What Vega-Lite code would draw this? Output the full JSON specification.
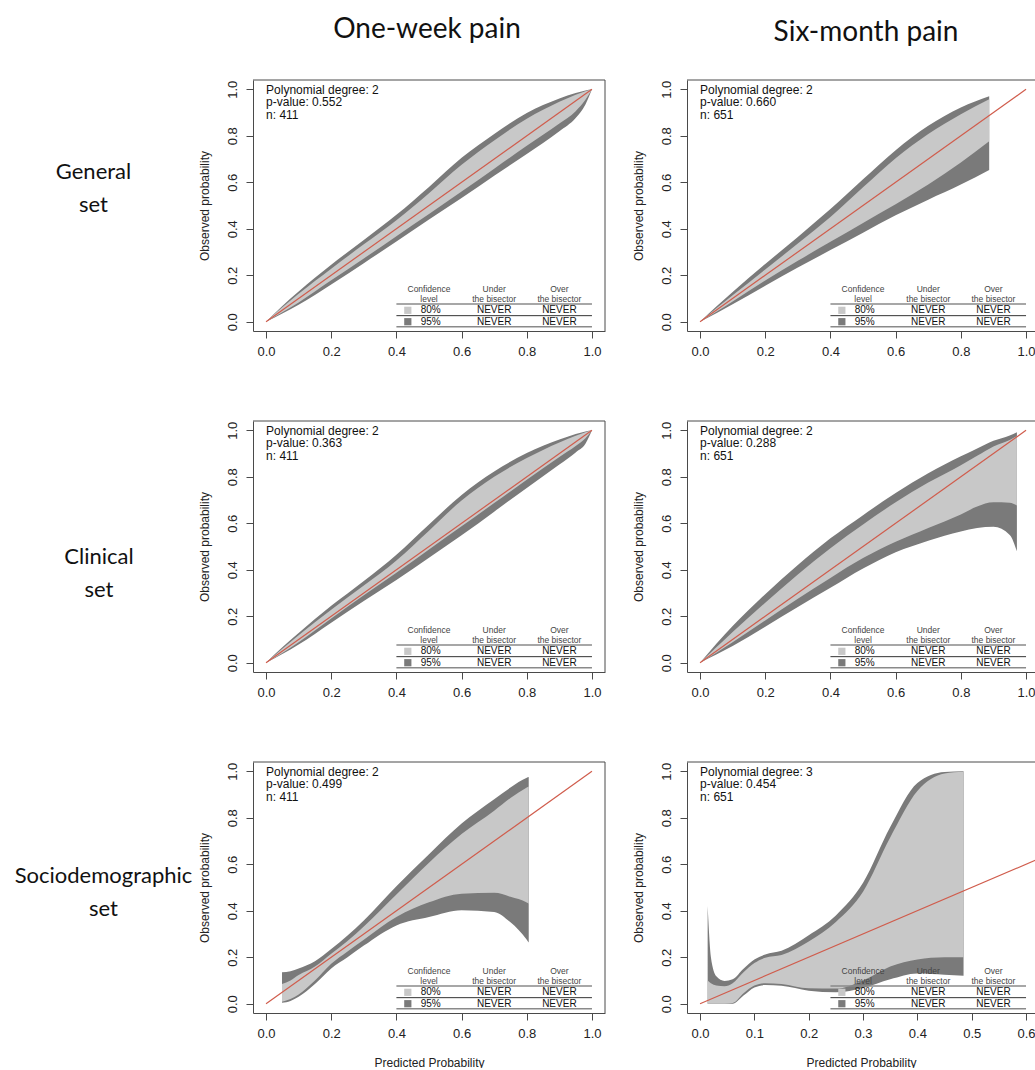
{
"$schema": "https://vega.github.io/schema/vega-lite/v6.json",
"background": "white",
"padding": {"left": 0, "top": 15, "right": 0, "bottom": 0},
"config": {
  "font": "Liberation Sans",
  "view": {"stroke": null},
  "axis": {"grid": false, "domainColor": "#4a4a4a", "domainWidth": 1, "tickColor": "#4a4a4a", "tickSize": 7, "tickWidth": 1, "labelFont": "Liberation Sans", "labelFontSize": 13, "labelColor": "#222", "labelOverlap": false, "labelFlush": false, "titleFont": "Liberation Sans", "titleFontSize": 12, "titleFontWeight": "normal", "titleColor": "#222"},
  "axisX": {"labelAngle": 0, "labelPadding": 7, "titlePadding": 17},
  "axisY": {"labelAngle": -90, "labelAlign": "center", "labelBaseline": "bottom", "labelPadding": 7, "titlePadding": 15},
  "title": {"font": "Lato", "fontSize": 28, "fontWeight": "normal", "color": "#111", "baseline": "alphabetic", "frame": "group", "anchor": "middle"}
},
"datasets": {
  "belt": [
    {"p":"P1","x":0,"u95":0,"u80":0,"l80":0,"l95":0},
    {"p":"P1","x":0.05,"u95":0.068,"u80":0.062,"l80":0.041,"l95":0.035},
    {"p":"P1","x":0.1,"u95":0.13,"u80":0.12,"l80":0.083,"l95":0.073},
    {"p":"P1","x":0.2,"u95":0.245,"u80":0.228,"l80":0.178,"l95":0.16},
    {"p":"P1","x":0.3,"u95":0.352,"u80":0.333,"l80":0.272,"l95":0.252},
    {"p":"P1","x":0.4,"u95":0.46,"u80":0.437,"l80":0.368,"l95":0.345},
    {"p":"P1","x":0.5,"u95":0.58,"u80":0.553,"l80":0.463,"l95":0.44},
    {"p":"P1","x":0.6,"u95":0.705,"u80":0.675,"l80":0.56,"l95":0.532},
    {"p":"P1","x":0.7,"u95":0.808,"u80":0.78,"l80":0.658,"l95":0.628},
    {"p":"P1","x":0.8,"u95":0.898,"u80":0.873,"l80":0.757,"l95":0.722},
    {"p":"P1","x":0.9,"u95":0.96,"u80":0.946,"l80":0.853,"l95":0.82},
    {"p":"P1","x":0.95,"u95":0.984,"u80":0.977,"l80":0.906,"l95":0.877},
    {"p":"P1","x":0.98,"u95":0.995,"u80":0.992,"l80":0.955,"l95":0.935},
    {"p":"P1","x":1,"u95":1,"u80":1,"l80":1,"l95":1},
    {"p":"P2","x":0,"u95":0,"u80":0,"l80":0,"l95":0},
    {"p":"P2","x":0.05,"u95":0.065,"u80":0.058,"l80":0.043,"l95":0.036},
    {"p":"P2","x":0.1,"u95":0.128,"u80":0.114,"l80":0.087,"l95":0.075},
    {"p":"P2","x":0.2,"u95":0.248,"u80":0.225,"l80":0.177,"l95":0.155},
    {"p":"P2","x":0.3,"u95":0.365,"u80":0.336,"l80":0.262,"l95":0.233},
    {"p":"P2","x":0.4,"u95":0.485,"u80":0.45,"l80":0.344,"l95":0.308},
    {"p":"P2","x":0.5,"u95":0.613,"u80":0.578,"l80":0.425,"l95":0.383},
    {"p":"P2","x":0.6,"u95":0.738,"u80":0.703,"l80":0.505,"l95":0.458},
    {"p":"P2","x":0.7,"u95":0.843,"u80":0.808,"l80":0.59,"l95":0.525},
    {"p":"P2","x":0.8,"u95":0.922,"u80":0.893,"l80":0.685,"l95":0.59},
    {"p":"P2","x":0.887,"u95":0.97,"u80":0.957,"l80":0.776,"l95":0.653},
    {"p":"P3","x":0,"u95":0,"u80":0,"l80":0,"l95":0},
    {"p":"P3","x":0.05,"u95":0.066,"u80":0.06,"l80":0.042,"l95":0.037},
    {"p":"P3","x":0.1,"u95":0.128,"u80":0.118,"l80":0.088,"l95":0.078},
    {"p":"P3","x":0.2,"u95":0.245,"u80":0.228,"l80":0.19,"l95":0.172},
    {"p":"P3","x":0.3,"u95":0.352,"u80":0.332,"l80":0.29,"l95":0.266},
    {"p":"P3","x":0.4,"u95":0.465,"u80":0.44,"l80":0.387,"l95":0.356},
    {"p":"P3","x":0.5,"u95":0.595,"u80":0.568,"l80":0.487,"l95":0.452},
    {"p":"P3","x":0.6,"u95":0.722,"u80":0.698,"l80":0.587,"l95":0.548},
    {"p":"P3","x":0.7,"u95":0.823,"u80":0.8,"l80":0.687,"l95":0.65},
    {"p":"P3","x":0.8,"u95":0.902,"u80":0.881,"l80":0.787,"l95":0.752},
    {"p":"P3","x":0.9,"u95":0.96,"u80":0.948,"l80":0.885,"l95":0.853},
    {"p":"P3","x":0.95,"u95":0.984,"u80":0.977,"l80":0.932,"l95":0.905},
    {"p":"P3","x":0.98,"u95":0.995,"u80":0.992,"l80":0.966,"l95":0.942},
    {"p":"P3","x":1,"u95":1,"u80":1,"l80":1,"l95":1},
    {"p":"P4","x":0,"u95":0,"u80":0,"l80":0,"l95":0},
    {"p":"P4","x":0.05,"u95":0.082,"u80":0.066,"l80":0.043,"l95":0.035},
    {"p":"P4","x":0.1,"u95":0.158,"u80":0.132,"l80":0.088,"l95":0.072},
    {"p":"P4","x":0.2,"u95":0.295,"u80":0.258,"l80":0.182,"l95":0.155},
    {"p":"P4","x":0.3,"u95":0.42,"u80":0.38,"l80":0.275,"l95":0.24},
    {"p":"P4","x":0.4,"u95":0.535,"u80":0.493,"l80":0.365,"l95":0.322},
    {"p":"P4","x":0.5,"u95":0.635,"u80":0.595,"l80":0.45,"l95":0.405},
    {"p":"P4","x":0.6,"u95":0.73,"u80":0.69,"l80":0.52,"l95":0.475},
    {"p":"P4","x":0.7,"u95":0.815,"u80":0.775,"l80":0.58,"l95":0.525},
    {"p":"P4","x":0.8,"u95":0.888,"u80":0.85,"l80":0.638,"l95":0.565},
    {"p":"P4","x":0.85,"u95":0.922,"u80":0.89,"l80":0.672,"l95":0.58},
    {"p":"P4","x":0.9,"u95":0.955,"u80":0.93,"l80":0.69,"l95":0.585},
    {"p":"P4","x":0.95,"u95":0.978,"u80":0.958,"l80":0.688,"l95":0.55},
    {"p":"P4","x":0.972,"u95":0.992,"u80":0.975,"l80":0.676,"l95":0.48},
    {"p":"P5","x":0.049,"u95":0.135,"u80":0.085,"l80":0.008,"l95":0.004},
    {"p":"P5","x":0.075,"u95":0.14,"u80":0.1,"l80":0.02,"l95":0.012},
    {"p":"P5","x":0.1,"u95":0.152,"u80":0.123,"l80":0.04,"l95":0.03},
    {"p":"P5","x":0.15,"u95":0.183,"u80":0.16,"l80":0.1,"l95":0.085},
    {"p":"P5","x":0.2,"u95":0.235,"u80":0.215,"l80":0.172,"l95":0.152},
    {"p":"P5","x":0.25,"u95":0.293,"u80":0.27,"l80":0.225,"l95":0.2},
    {"p":"P5","x":0.3,"u95":0.358,"u80":0.332,"l80":0.275,"l95":0.25},
    {"p":"P5","x":0.4,"u95":0.505,"u80":0.47,"l80":0.373,"l95":0.337},
    {"p":"P5","x":0.5,"u95":0.643,"u80":0.607,"l80":0.436,"l95":0.373},
    {"p":"P5","x":0.6,"u95":0.775,"u80":0.73,"l80":0.473,"l95":0.402},
    {"p":"P5","x":0.7,"u95":0.88,"u80":0.83,"l80":0.477,"l95":0.395},
    {"p":"P5","x":0.75,"u95":0.93,"u80":0.885,"l80":0.46,"l95":0.35},
    {"p":"P5","x":0.8,"u95":0.972,"u80":0.93,"l80":0.435,"l95":0.275},
    {"p":"P5","x":0.806,"u95":0.975,"u80":0.935,"l80":0.43,"l95":0.263},
    {"p":"P6","x":0.014,"u95":0.42,"u80":0.1,"l80":0,"l95":0},
    {"p":"P6","x":0.02,"u95":0.2,"u80":0.088,"l80":0,"l95":0},
    {"p":"P6","x":0.03,"u95":0.118,"u80":0.078,"l80":0,"l95":0},
    {"p":"P6","x":0.045,"u95":0.098,"u80":0.075,"l80":0,"l95":0},
    {"p":"P6","x":0.06,"u95":0.105,"u80":0.088,"l80":0.003,"l95":0},
    {"p":"P6","x":0.08,"u95":0.15,"u80":0.135,"l80":0.045,"l95":0.035},
    {"p":"P6","x":0.1,"u95":0.19,"u80":0.175,"l80":0.078,"l95":0.07},
    {"p":"P6","x":0.12,"u95":0.212,"u80":0.198,"l80":0.088,"l95":0.08},
    {"p":"P6","x":0.15,"u95":0.228,"u80":0.21,"l80":0.085,"l95":0.077},
    {"p":"P6","x":0.2,"u95":0.295,"u80":0.268,"l80":0.066,"l95":0.056},
    {"p":"P6","x":0.25,"u95":0.38,"u80":0.352,"l80":0.065,"l95":0.049},
    {"p":"P6","x":0.3,"u95":0.52,"u80":0.482,"l80":0.1,"l95":0.068},
    {"p":"P6","x":0.35,"u95":0.76,"u80":0.715,"l80":0.16,"l95":0.105},
    {"p":"P6","x":0.4,"u95":0.95,"u80":0.915,"l80":0.19,"l95":0.13},
    {"p":"P6","x":0.45,"u95":0.997,"u80":0.99,"l80":0.2,"l95":0.125},
    {"p":"P6","x":0.485,"u95":1,"u80":0.998,"l80":0.2,"l95":0.12}
  ],
  "diag": [{"x":0,"y":0},{"x":1,"y":1}],
  "notes": [
    {"p":"P1","txt":"Polynomial degree: 2\np-value: 0.552\nn: 411"},
    {"p":"P2","txt":"Polynomial degree: 2\np-value: 0.660\nn: 651"},
    {"p":"P3","txt":"Polynomial degree: 2\np-value: 0.363\nn: 411"},
    {"p":"P4","txt":"Polynomial degree: 2\np-value: 0.288\nn: 651"},
    {"p":"P5","txt":"Polynomial degree: 2\np-value: 0.499\nn: 411"},
    {"p":"P6","txt":"Polynomial degree: 3\np-value: 0.454\nn: 651"}
  ],
  "tbl": [
    {"g":"a","role":"head","tx":0.5,"ty":0.14,"label":"Confidence"},
    {"g":"a","role":"head","tx":0.5,"ty":0.097,"label":"level"},
    {"g":"a","role":"head","tx":0.7,"ty":0.14,"label":"Under"},
    {"g":"a","role":"head","tx":0.7,"ty":0.097,"label":"the bisector"},
    {"g":"a","role":"head","tx":0.9,"ty":0.14,"label":"Over"},
    {"g":"a","role":"head","tx":0.9,"ty":0.097,"label":"the bisector"},
    {"g":"a","role":"body","tx":0.505,"ty":0.049,"label":"80%"},
    {"g":"a","role":"body","tx":0.7,"ty":0.049,"label":"NEVER"},
    {"g":"a","role":"body","tx":0.9,"ty":0.049,"label":"NEVER"},
    {"g":"a","role":"body","tx":0.505,"ty":0.0,"label":"95%"},
    {"g":"a","role":"body","tx":0.7,"ty":0.0,"label":"NEVER"},
    {"g":"a","role":"body","tx":0.9,"ty":0.0,"label":"NEVER"},
    {"g":"b","role":"head","tx":0.3,"ty":0.14,"label":"Confidence"},
    {"g":"b","role":"head","tx":0.3,"ty":0.097,"label":"level"},
    {"g":"b","role":"head","tx":0.42,"ty":0.14,"label":"Under"},
    {"g":"b","role":"head","tx":0.42,"ty":0.097,"label":"the bisector"},
    {"g":"b","role":"head","tx":0.54,"ty":0.14,"label":"Over"},
    {"g":"b","role":"head","tx":0.54,"ty":0.097,"label":"the bisector"},
    {"g":"b","role":"body","tx":0.303,"ty":0.049,"label":"80%"},
    {"g":"b","role":"body","tx":0.42,"ty":0.049,"label":"NEVER"},
    {"g":"b","role":"body","tx":0.54,"ty":0.049,"label":"NEVER"},
    {"g":"b","role":"body","tx":0.303,"ty":0.0,"label":"95%"},
    {"g":"b","role":"body","tx":0.42,"ty":0.0,"label":"NEVER"},
    {"g":"b","role":"body","tx":0.54,"ty":0.0,"label":"NEVER"}
  ],
  "tsq": [
    {"g":"a","tx":0.435,"ty":0.049,"level":"80%"},
    {"g":"a","tx":0.435,"ty":0.0,"level":"95%"},
    {"g":"b","tx":0.261,"ty":0.049,"level":"80%"},
    {"g":"b","tx":0.261,"ty":0.0,"level":"95%"}
  ],
  "tline": [
    {"g":"a","kind":"outer","x1":0.4,"x2":1.0,"y":0.076},
    {"g":"a","kind":"inner","x1":0.4,"x2":1.0,"y":0.026},
    {"g":"a","kind":"outer","x1":0.4,"x2":1.0,"y":-0.022},
    {"g":"b","kind":"outer","x1":0.24,"x2":0.6,"y":0.076},
    {"g":"b","kind":"inner","x1":0.24,"x2":0.6,"y":0.026},
    {"g":"b","kind":"outer","x1":0.24,"x2":0.6,"y":-0.022}
  ]
},
"bounds": "flush",
"align": "each",
"columns": 3,
"spacing": {"row": 90, "column": 82},
"concat": [
  {"width": 171, "height": 251, "data": {"values": [{"label": "General\nset"}]},
   "mark": {"type": "text", "font": "Lato", "fontSize": 22, "lineBreak": "\n", "lineHeight": 33, "baseline": "middle", "align": "center", "color": "#111", "dx": 8, "dy": -33.5},
   "encoding": {"text": {"field": "label", "type": "nominal"}}},
  {"width": 352, "height": 251,
   "title": {"text": "One-week pain", "offset": 36, "dx": -2},
   "layer": [
    {"data": {"name": "belt"}, "transform": [{"filter": "datum.p === 'P1'"}],
     "mark": {"type": "area", "color": "#7a7a7a", "interpolate": "monotone"},
     "encoding": {
      "x": {"field": "x", "type": "quantitative", "scale": {"domain": [-0.04, 1.04], "nice": false, "zero": false}, "axis": {"values": [0, 0.2, 0.4, 0.6, 0.8, 1], "format": ".1f", "title": null}},
      "y": {"field": "u95", "type": "quantitative", "scale": {"domain": [-0.04, 1.04], "nice": false, "zero": false}, "axis": {"values": [0, 0.2, 0.4, 0.6, 0.8, 1], "format": ".1f", "title": "Observed probability"}},
      "y2": {"field": "l95"}}},
    {"data": {"name": "belt"}, "transform": [{"filter": "datum.p === 'P1'"}],
     "mark": {"type": "area", "color": "#c8c8c8", "interpolate": "monotone"},
     "encoding": {"x": {"field": "x", "type": "quantitative"}, "y": {"field": "u80", "type": "quantitative"}, "y2": {"field": "l80"}}},
    {"data": {"name": "diag"}, "mark": {"type": "line", "color": "#d05c4c", "strokeWidth": 1.2, "clip": true},
     "encoding": {"x": {"field": "x", "type": "quantitative"}, "y": {"field": "y", "type": "quantitative"}}},
    {"data": {"name": "notes"}, "transform": [{"filter": "datum.p === 'P1'"}],
     "mark": {"type": "text", "align": "left", "baseline": "alphabetic", "lineBreak": "\n", "lineHeight": 12.3, "fontSize": 12, "color": "#111"},
     "encoding": {"x": {"datum": 0}, "y": {"datum": 0.98}, "text": {"field": "txt", "type": "nominal"}}},
    {"data": {"name": "tline"}, "transform": [{"filter": "datum.g === 'a' && datum.kind === 'outer'"}],
     "mark": {"type": "rule", "color": "#8a8a8a", "strokeWidth": 1.6},
     "encoding": {"x": {"field": "x1", "type": "quantitative"}, "x2": {"field": "x2"}, "y": {"field": "y", "type": "quantitative"}}},
    {"data": {"name": "tline"}, "transform": [{"filter": "datum.g === 'a' && datum.kind === 'inner'"}],
     "mark": {"type": "rule", "color": "#333", "strokeWidth": 1},
     "encoding": {"x": {"field": "x1", "type": "quantitative"}, "x2": {"field": "x2"}, "y": {"field": "y", "type": "quantitative"}}},
    {"data": {"name": "tbl"}, "transform": [{"filter": "datum.g === 'a' && datum.role === 'head'"}],
     "mark": {"type": "text", "fontSize": 8.5, "color": "#444", "baseline": "middle"},
     "encoding": {"x": {"field": "tx", "type": "quantitative"}, "y": {"field": "ty", "type": "quantitative"}, "text": {"field": "label", "type": "nominal"}}},
    {"data": {"name": "tbl"}, "transform": [{"filter": "datum.g === 'a' && datum.role === 'body'"}],
     "mark": {"type": "text", "fontSize": 10, "color": "#111", "baseline": "middle"},
     "encoding": {"x": {"field": "tx", "type": "quantitative"}, "y": {"field": "ty", "type": "quantitative"}, "text": {"field": "label", "type": "nominal"}}},
    {"data": {"name": "tsq"}, "transform": [{"filter": "datum.g === 'a'"}],
     "mark": {"type": "square", "size": 52, "opacity": 1},
     "encoding": {"x": {"field": "tx", "type": "quantitative"}, "y": {"field": "ty", "type": "quantitative"}, "color": {"field": "level", "type": "nominal", "scale": {"domain": ["80%", "95%"], "range": ["#c8c8c8", "#7a7a7a"]}, "legend": null}}},
    {"data": {"values": [{}]}, "mark": {"type": "rule", "color": "#4a4a4a", "strokeWidth": 1}, "encoding": {"y": {"datum": 1.04}}},
    {"data": {"values": [{}]}, "mark": {"type": "rule", "color": "#4a4a4a", "strokeWidth": 1}, "encoding": {"x": {"datum": 1.04}}}
   ]},
  {"width": 348, "height": 251,
   "title": {"text": "Six-month pain", "offset": 33, "dx": 5},
   "layer": [
    {"data": {"name": "belt"}, "transform": [{"filter": "datum.p === 'P2'"}],
     "mark": {"type": "area", "color": "#7a7a7a", "interpolate": "monotone"},
     "encoding": {
      "x": {"field": "x", "type": "quantitative", "scale": {"domain": [-0.04, 1.0275], "nice": false, "zero": false}, "axis": {"values": [0, 0.2, 0.4, 0.6, 0.8, 1], "format": ".1f", "title": null}},
      "y": {"field": "u95", "type": "quantitative", "scale": {"domain": [-0.04, 1.04], "nice": false, "zero": false}, "axis": {"values": [0, 0.2, 0.4, 0.6, 0.8, 1], "format": ".1f", "title": "Observed probability"}},
      "y2": {"field": "l95"}}},
    {"data": {"name": "belt"}, "transform": [{"filter": "datum.p === 'P2'"}],
     "mark": {"type": "area", "color": "#c8c8c8", "interpolate": "monotone"},
     "encoding": {"x": {"field": "x", "type": "quantitative"}, "y": {"field": "u80", "type": "quantitative"}, "y2": {"field": "l80"}}},
    {"data": {"name": "diag"}, "mark": {"type": "line", "color": "#d05c4c", "strokeWidth": 1.2, "clip": true},
     "encoding": {"x": {"field": "x", "type": "quantitative"}, "y": {"field": "y", "type": "quantitative"}}},
    {"data": {"name": "notes"}, "transform": [{"filter": "datum.p === 'P2'"}],
     "mark": {"type": "text", "align": "left", "baseline": "alphabetic", "lineBreak": "\n", "lineHeight": 12.3, "fontSize": 12, "color": "#111"},
     "encoding": {"x": {"datum": 0}, "y": {"datum": 0.98}, "text": {"field": "txt", "type": "nominal"}}},
    {"data": {"name": "tline"}, "transform": [{"filter": "datum.g === 'a' && datum.kind === 'outer'"}],
     "mark": {"type": "rule", "color": "#8a8a8a", "strokeWidth": 1.6},
     "encoding": {"x": {"field": "x1", "type": "quantitative"}, "x2": {"field": "x2"}, "y": {"field": "y", "type": "quantitative"}}},
    {"data": {"name": "tline"}, "transform": [{"filter": "datum.g === 'a' && datum.kind === 'inner'"}],
     "mark": {"type": "rule", "color": "#333", "strokeWidth": 1},
     "encoding": {"x": {"field": "x1", "type": "quantitative"}, "x2": {"field": "x2"}, "y": {"field": "y", "type": "quantitative"}}},
    {"data": {"name": "tbl"}, "transform": [{"filter": "datum.g === 'a' && datum.role === 'head'"}],
     "mark": {"type": "text", "fontSize": 8.5, "color": "#444", "baseline": "middle"},
     "encoding": {"x": {"field": "tx", "type": "quantitative"}, "y": {"field": "ty", "type": "quantitative"}, "text": {"field": "label", "type": "nominal"}}},
    {"data": {"name": "tbl"}, "transform": [{"filter": "datum.g === 'a' && datum.role === 'body'"}],
     "mark": {"type": "text", "fontSize": 10, "color": "#111", "baseline": "middle"},
     "encoding": {"x": {"field": "tx", "type": "quantitative"}, "y": {"field": "ty", "type": "quantitative"}, "text": {"field": "label", "type": "nominal"}}},
    {"data": {"name": "tsq"}, "transform": [{"filter": "datum.g === 'a'"}],
     "mark": {"type": "square", "size": 52, "opacity": 1},
     "encoding": {"x": {"field": "tx", "type": "quantitative"}, "y": {"field": "ty", "type": "quantitative"}, "color": {"field": "level", "type": "nominal", "scale": {"domain": ["80%", "95%"], "range": ["#c8c8c8", "#7a7a7a"]}, "legend": null}}},
    {"data": {"values": [{}]}, "mark": {"type": "rule", "color": "#4a4a4a", "strokeWidth": 1}, "encoding": {"y": {"datum": 1.04}}}
   ]},
  {"width": 171, "height": 251, "data": {"values": [{"label": "Clinical\nset"}]},
   "mark": {"type": "text", "font": "Lato", "fontSize": 22, "lineBreak": "\n", "lineHeight": 33, "baseline": "middle", "align": "center", "color": "#111", "dx": 13.5, "dy": 10.5},
   "encoding": {"text": {"field": "label", "type": "nominal"}}},
  {"width": 352, "height": 251,
   "layer": [
    {"data": {"name": "belt"}, "transform": [{"filter": "datum.p === 'P3'"}],
     "mark": {"type": "area", "color": "#7a7a7a", "interpolate": "monotone"},
     "encoding": {
      "x": {"field": "x", "type": "quantitative", "scale": {"domain": [-0.04, 1.04], "nice": false, "zero": false}, "axis": {"values": [0, 0.2, 0.4, 0.6, 0.8, 1], "format": ".1f", "title": null}},
      "y": {"field": "u95", "type": "quantitative", "scale": {"domain": [-0.04, 1.04], "nice": false, "zero": false}, "axis": {"values": [0, 0.2, 0.4, 0.6, 0.8, 1], "format": ".1f", "title": "Observed probability"}},
      "y2": {"field": "l95"}}},
    {"data": {"name": "belt"}, "transform": [{"filter": "datum.p === 'P3'"}],
     "mark": {"type": "area", "color": "#c8c8c8", "interpolate": "monotone"},
     "encoding": {"x": {"field": "x", "type": "quantitative"}, "y": {"field": "u80", "type": "quantitative"}, "y2": {"field": "l80"}}},
    {"data": {"name": "diag"}, "mark": {"type": "line", "color": "#d05c4c", "strokeWidth": 1.2, "clip": true},
     "encoding": {"x": {"field": "x", "type": "quantitative"}, "y": {"field": "y", "type": "quantitative"}}},
    {"data": {"name": "notes"}, "transform": [{"filter": "datum.p === 'P3'"}],
     "mark": {"type": "text", "align": "left", "baseline": "alphabetic", "lineBreak": "\n", "lineHeight": 12.3, "fontSize": 12, "color": "#111"},
     "encoding": {"x": {"datum": 0}, "y": {"datum": 0.98}, "text": {"field": "txt", "type": "nominal"}}},
    {"data": {"name": "tline"}, "transform": [{"filter": "datum.g === 'a' && datum.kind === 'outer'"}],
     "mark": {"type": "rule", "color": "#8a8a8a", "strokeWidth": 1.6},
     "encoding": {"x": {"field": "x1", "type": "quantitative"}, "x2": {"field": "x2"}, "y": {"field": "y", "type": "quantitative"}}},
    {"data": {"name": "tline"}, "transform": [{"filter": "datum.g === 'a' && datum.kind === 'inner'"}],
     "mark": {"type": "rule", "color": "#333", "strokeWidth": 1},
     "encoding": {"x": {"field": "x1", "type": "quantitative"}, "x2": {"field": "x2"}, "y": {"field": "y", "type": "quantitative"}}},
    {"data": {"name": "tbl"}, "transform": [{"filter": "datum.g === 'a' && datum.role === 'head'"}],
     "mark": {"type": "text", "fontSize": 8.5, "color": "#444", "baseline": "middle"},
     "encoding": {"x": {"field": "tx", "type": "quantitative"}, "y": {"field": "ty", "type": "quantitative"}, "text": {"field": "label", "type": "nominal"}}},
    {"data": {"name": "tbl"}, "transform": [{"filter": "datum.g === 'a' && datum.role === 'body'"}],
     "mark": {"type": "text", "fontSize": 10, "color": "#111", "baseline": "middle"},
     "encoding": {"x": {"field": "tx", "type": "quantitative"}, "y": {"field": "ty", "type": "quantitative"}, "text": {"field": "label", "type": "nominal"}}},
    {"data": {"name": "tsq"}, "transform": [{"filter": "datum.g === 'a'"}],
     "mark": {"type": "square", "size": 52, "opacity": 1},
     "encoding": {"x": {"field": "tx", "type": "quantitative"}, "y": {"field": "ty", "type": "quantitative"}, "color": {"field": "level", "type": "nominal", "scale": {"domain": ["80%", "95%"], "range": ["#c8c8c8", "#7a7a7a"]}, "legend": null}}},
    {"data": {"values": [{}]}, "mark": {"type": "rule", "color": "#4a4a4a", "strokeWidth": 1}, "encoding": {"y": {"datum": 1.04}}},
    {"data": {"values": [{}]}, "mark": {"type": "rule", "color": "#4a4a4a", "strokeWidth": 1}, "encoding": {"x": {"datum": 1.04}}}
   ]},
  {"width": 348, "height": 251,
   "layer": [
    {"data": {"name": "belt"}, "transform": [{"filter": "datum.p === 'P4'"}],
     "mark": {"type": "area", "color": "#7a7a7a", "interpolate": "monotone"},
     "encoding": {
      "x": {"field": "x", "type": "quantitative", "scale": {"domain": [-0.04, 1.0275], "nice": false, "zero": false}, "axis": {"values": [0, 0.2, 0.4, 0.6, 0.8, 1], "format": ".1f", "title": null}},
      "y": {"field": "u95", "type": "quantitative", "scale": {"domain": [-0.04, 1.04], "nice": false, "zero": false}, "axis": {"values": [0, 0.2, 0.4, 0.6, 0.8, 1], "format": ".1f", "title": "Observed probability"}},
      "y2": {"field": "l95"}}},
    {"data": {"name": "belt"}, "transform": [{"filter": "datum.p === 'P4'"}],
     "mark": {"type": "area", "color": "#c8c8c8", "interpolate": "monotone"},
     "encoding": {"x": {"field": "x", "type": "quantitative"}, "y": {"field": "u80", "type": "quantitative"}, "y2": {"field": "l80"}}},
    {"data": {"name": "diag"}, "mark": {"type": "line", "color": "#d05c4c", "strokeWidth": 1.2, "clip": true},
     "encoding": {"x": {"field": "x", "type": "quantitative"}, "y": {"field": "y", "type": "quantitative"}}},
    {"data": {"name": "notes"}, "transform": [{"filter": "datum.p === 'P4'"}],
     "mark": {"type": "text", "align": "left", "baseline": "alphabetic", "lineBreak": "\n", "lineHeight": 12.3, "fontSize": 12, "color": "#111"},
     "encoding": {"x": {"datum": 0}, "y": {"datum": 0.98}, "text": {"field": "txt", "type": "nominal"}}},
    {"data": {"name": "tline"}, "transform": [{"filter": "datum.g === 'a' && datum.kind === 'outer'"}],
     "mark": {"type": "rule", "color": "#8a8a8a", "strokeWidth": 1.6},
     "encoding": {"x": {"field": "x1", "type": "quantitative"}, "x2": {"field": "x2"}, "y": {"field": "y", "type": "quantitative"}}},
    {"data": {"name": "tline"}, "transform": [{"filter": "datum.g === 'a' && datum.kind === 'inner'"}],
     "mark": {"type": "rule", "color": "#333", "strokeWidth": 1},
     "encoding": {"x": {"field": "x1", "type": "quantitative"}, "x2": {"field": "x2"}, "y": {"field": "y", "type": "quantitative"}}},
    {"data": {"name": "tbl"}, "transform": [{"filter": "datum.g === 'a' && datum.role === 'head'"}],
     "mark": {"type": "text", "fontSize": 8.5, "color": "#444", "baseline": "middle"},
     "encoding": {"x": {"field": "tx", "type": "quantitative"}, "y": {"field": "ty", "type": "quantitative"}, "text": {"field": "label", "type": "nominal"}}},
    {"data": {"name": "tbl"}, "transform": [{"filter": "datum.g === 'a' && datum.role === 'body'"}],
     "mark": {"type": "text", "fontSize": 10, "color": "#111", "baseline": "middle"},
     "encoding": {"x": {"field": "tx", "type": "quantitative"}, "y": {"field": "ty", "type": "quantitative"}, "text": {"field": "label", "type": "nominal"}}},
    {"data": {"name": "tsq"}, "transform": [{"filter": "datum.g === 'a'"}],
     "mark": {"type": "square", "size": 52, "opacity": 1},
     "encoding": {"x": {"field": "tx", "type": "quantitative"}, "y": {"field": "ty", "type": "quantitative"}, "color": {"field": "level", "type": "nominal", "scale": {"domain": ["80%", "95%"], "range": ["#c8c8c8", "#7a7a7a"]}, "legend": null}}},
    {"data": {"values": [{}]}, "mark": {"type": "rule", "color": "#4a4a4a", "strokeWidth": 1}, "encoding": {"y": {"datum": 1.04}}}
   ]},
  {"width": 171, "height": 251, "data": {"values": [{"label": "Sociodemographic\nset"}]},
   "mark": {"type": "text", "font": "Lato", "fontSize": 22, "lineBreak": "\n", "lineHeight": 33, "baseline": "middle", "align": "center", "color": "#111", "dx": 18, "dy": -11.5},
   "encoding": {"text": {"field": "label", "type": "nominal"}}},
  {"width": 352, "height": 251,
   "layer": [
    {"data": {"name": "belt"}, "transform": [{"filter": "datum.p === 'P5'"}],
     "mark": {"type": "area", "color": "#7a7a7a", "interpolate": "monotone"},
     "encoding": {
      "x": {"field": "x", "type": "quantitative", "scale": {"domain": [-0.04, 1.04], "nice": false, "zero": false}, "axis": {"values": [0, 0.2, 0.4, 0.6, 0.8, 1], "format": ".1f", "title": "Predicted Probability"}},
      "y": {"field": "u95", "type": "quantitative", "scale": {"domain": [-0.04, 1.04], "nice": false, "zero": false}, "axis": {"values": [0, 0.2, 0.4, 0.6, 0.8, 1], "format": ".1f", "title": "Observed probability"}},
      "y2": {"field": "l95"}}},
    {"data": {"name": "belt"}, "transform": [{"filter": "datum.p === 'P5'"}],
     "mark": {"type": "area", "color": "#c8c8c8", "interpolate": "monotone"},
     "encoding": {"x": {"field": "x", "type": "quantitative"}, "y": {"field": "u80", "type": "quantitative"}, "y2": {"field": "l80"}}},
    {"data": {"name": "diag"}, "mark": {"type": "line", "color": "#d05c4c", "strokeWidth": 1.2, "clip": true},
     "encoding": {"x": {"field": "x", "type": "quantitative"}, "y": {"field": "y", "type": "quantitative"}}},
    {"data": {"name": "notes"}, "transform": [{"filter": "datum.p === 'P5'"}],
     "mark": {"type": "text", "align": "left", "baseline": "alphabetic", "lineBreak": "\n", "lineHeight": 12.3, "fontSize": 12, "color": "#111"},
     "encoding": {"x": {"datum": 0}, "y": {"datum": 0.98}, "text": {"field": "txt", "type": "nominal"}}},
    {"data": {"name": "tline"}, "transform": [{"filter": "datum.g === 'a' && datum.kind === 'outer'"}],
     "mark": {"type": "rule", "color": "#8a8a8a", "strokeWidth": 1.6},
     "encoding": {"x": {"field": "x1", "type": "quantitative"}, "x2": {"field": "x2"}, "y": {"field": "y", "type": "quantitative"}}},
    {"data": {"name": "tline"}, "transform": [{"filter": "datum.g === 'a' && datum.kind === 'inner'"}],
     "mark": {"type": "rule", "color": "#333", "strokeWidth": 1},
     "encoding": {"x": {"field": "x1", "type": "quantitative"}, "x2": {"field": "x2"}, "y": {"field": "y", "type": "quantitative"}}},
    {"data": {"name": "tbl"}, "transform": [{"filter": "datum.g === 'a' && datum.role === 'head'"}],
     "mark": {"type": "text", "fontSize": 8.5, "color": "#444", "baseline": "middle"},
     "encoding": {"x": {"field": "tx", "type": "quantitative"}, "y": {"field": "ty", "type": "quantitative"}, "text": {"field": "label", "type": "nominal"}}},
    {"data": {"name": "tbl"}, "transform": [{"filter": "datum.g === 'a' && datum.role === 'body'"}],
     "mark": {"type": "text", "fontSize": 10, "color": "#111", "baseline": "middle"},
     "encoding": {"x": {"field": "tx", "type": "quantitative"}, "y": {"field": "ty", "type": "quantitative"}, "text": {"field": "label", "type": "nominal"}}},
    {"data": {"name": "tsq"}, "transform": [{"filter": "datum.g === 'a'"}],
     "mark": {"type": "square", "size": 52, "opacity": 1},
     "encoding": {"x": {"field": "tx", "type": "quantitative"}, "y": {"field": "ty", "type": "quantitative"}, "color": {"field": "level", "type": "nominal", "scale": {"domain": ["80%", "95%"], "range": ["#c8c8c8", "#7a7a7a"]}, "legend": null}}},
    {"data": {"values": [{}]}, "mark": {"type": "rule", "color": "#4a4a4a", "strokeWidth": 1}, "encoding": {"y": {"datum": 1.04}}},
    {"data": {"values": [{}]}, "mark": {"type": "rule", "color": "#4a4a4a", "strokeWidth": 1}, "encoding": {"x": {"datum": 1.04}}}
   ]},
  {"width": 348, "height": 251,
   "layer": [
    {"data": {"name": "belt"}, "transform": [{"filter": "datum.p === 'P6'"}],
     "mark": {"type": "area", "color": "#7a7a7a", "interpolate": "monotone"},
     "encoding": {
      "x": {"field": "x", "type": "quantitative", "scale": {"domain": [-0.024, 0.6165], "nice": false, "zero": false}, "axis": {"values": [0, 0.1, 0.2, 0.3, 0.4, 0.5, 0.6], "format": ".1f", "title": "Predicted Probability"}},
      "y": {"field": "u95", "type": "quantitative", "scale": {"domain": [-0.04, 1.04], "nice": false, "zero": false}, "axis": {"values": [0, 0.2, 0.4, 0.6, 0.8, 1], "format": ".1f", "title": "Observed probability"}},
      "y2": {"field": "l95"}}},
    {"data": {"name": "belt"}, "transform": [{"filter": "datum.p === 'P6'"}],
     "mark": {"type": "area", "color": "#c8c8c8", "interpolate": "monotone"},
     "encoding": {"x": {"field": "x", "type": "quantitative"}, "y": {"field": "u80", "type": "quantitative"}, "y2": {"field": "l80"}}},
    {"data": {"name": "diag"}, "mark": {"type": "line", "color": "#d05c4c", "strokeWidth": 1.2, "clip": true},
     "encoding": {"x": {"field": "x", "type": "quantitative"}, "y": {"field": "y", "type": "quantitative"}}},
    {"data": {"name": "notes"}, "transform": [{"filter": "datum.p === 'P6'"}],
     "mark": {"type": "text", "align": "left", "baseline": "alphabetic", "lineBreak": "\n", "lineHeight": 12.3, "fontSize": 12, "color": "#111"},
     "encoding": {"x": {"datum": 0}, "y": {"datum": 0.98}, "text": {"field": "txt", "type": "nominal"}}},
    {"data": {"name": "tline"}, "transform": [{"filter": "datum.g === 'b' && datum.kind === 'outer'"}],
     "mark": {"type": "rule", "color": "#8a8a8a", "strokeWidth": 1.6},
     "encoding": {"x": {"field": "x1", "type": "quantitative"}, "x2": {"field": "x2"}, "y": {"field": "y", "type": "quantitative"}}},
    {"data": {"name": "tline"}, "transform": [{"filter": "datum.g === 'b' && datum.kind === 'inner'"}],
     "mark": {"type": "rule", "color": "#333", "strokeWidth": 1},
     "encoding": {"x": {"field": "x1", "type": "quantitative"}, "x2": {"field": "x2"}, "y": {"field": "y", "type": "quantitative"}}},
    {"data": {"name": "tbl"}, "transform": [{"filter": "datum.g === 'b' && datum.role === 'head'"}],
     "mark": {"type": "text", "fontSize": 8.5, "color": "#444", "baseline": "middle"},
     "encoding": {"x": {"field": "tx", "type": "quantitative"}, "y": {"field": "ty", "type": "quantitative"}, "text": {"field": "label", "type": "nominal"}}},
    {"data": {"name": "tbl"}, "transform": [{"filter": "datum.g === 'b' && datum.role === 'body'"}],
     "mark": {"type": "text", "fontSize": 10, "color": "#111", "baseline": "middle"},
     "encoding": {"x": {"field": "tx", "type": "quantitative"}, "y": {"field": "ty", "type": "quantitative"}, "text": {"field": "label", "type": "nominal"}}},
    {"data": {"name": "tsq"}, "transform": [{"filter": "datum.g === 'b'"}],
     "mark": {"type": "square", "size": 52, "opacity": 1},
     "encoding": {"x": {"field": "tx", "type": "quantitative"}, "y": {"field": "ty", "type": "quantitative"}, "color": {"field": "level", "type": "nominal", "scale": {"domain": ["80%", "95%"], "range": ["#c8c8c8", "#7a7a7a"]}, "legend": null}}},
    {"data": {"values": [{}]}, "mark": {"type": "rule", "color": "#4a4a4a", "strokeWidth": 1}, "encoding": {"y": {"datum": 1.04}}}
   ]}
]
}
